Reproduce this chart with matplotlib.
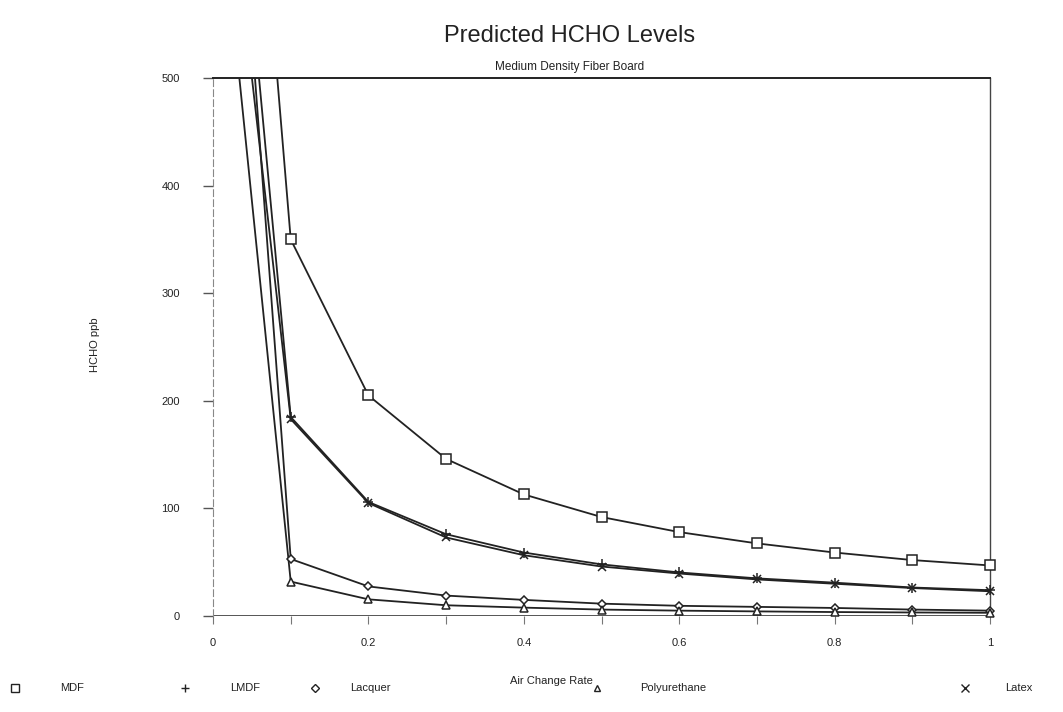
import numpy as np
import matplotlib
matplotlib.use('Agg')
import matplotlib.pyplot as plt
from matplotlib.lines import Line2D

plt.rcParams['font.family'] = ['Liberation Sans', 'DejaVu Sans']

# Air change rate (per hour) and predicted HCHO concentration (ppb)
air_change = [0.0, 0.1, 0.2, 0.3, 0.4, 0.5, 0.6, 0.7, 0.8, 0.9, 1.0]
mdf = [1217, 350, 205, 146, 113, 92, 78, 67.5, 59, 52, 47]
lmdf = [957, 185, 106, 76, 59, 48, 40.5, 35, 31, 26.5, 24]
lacquer = [1025, 53, 27.5, 19, 15, 11.5, 9.5, 8.5, 7.5, 6, 5]
polyurethane = [740, 32, 15.5, 10, 7.8, 6, 5, 4.3, 3.7, 3.3, 3]
latex = [818, 183, 105, 73, 56.5, 46, 39.5, 34, 30, 26, 23]

series_names = ['MDF', 'LMDF', 'Lacquer', 'Polyurethane', 'Latex']
series_values = [mdf, lmdf, lacquer, polyurethane, latex]
series_markers = ['s', '+', 'D', '^', 'x']
series_msize = [6.5, 7, 4.5, 5.5, 6]
legend_msize = [6, 6, 4, 5, 5.5]

ink = '#222222'
y_max = 500

fig = plt.figure(figsize=(10.63, 7.12), dpi=100)
ax = fig.add_axes([0.2004, 0.1348, 0.731, 0.7556])

for name, vals, mk, ms in zip(series_names, series_values, series_markers, series_msize):
    # lines are clipped at the top of the plot
    ax.plot(air_change, vals, color=ink, lw=1.3, label=name, zorder=3)
    # markers for the in-range points are drawn whole, even on the frame edge
    xs = np.array(air_change)
    vs = np.array(vals)
    keep = vs <= y_max
    ax.plot(xs[keep], vs[keep], linestyle='none', marker=mk, markersize=ms,
            markerfacecolor='white', markeredgecolor=ink, markeredgewidth=1.1,
            clip_on=False, zorder=4)

ax.set_xlim(0, 1)
ax.set_ylim(0, y_max)

# frame: dashed left axis, solid top/right, heavy zero line
ax.spines['left'].set_linestyle((0, (6, 3)))
ax.spines['left'].set_color('#888888')
ax.spines['left'].set_linewidth(0.8)
ax.spines['bottom'].set_visible(False)
ax.spines['top'].set_color(ink)
ax.spines['top'].set_linewidth(1.4)
ax.spines['right'].set_color('#444444')
ax.spines['right'].set_linewidth(1.0)
ax.axhline(0, color=ink, lw=1.8, zorder=2)

ax.set_xticks(np.arange(0, 1.01, 0.2))
ax.set_xticklabels(['0', '0.2', '0.4', '0.6', '0.8', '1'])
ax.set_xticks(np.arange(0.1, 1.0, 0.2), minor=True)
ax.set_yticks(np.arange(0, 501, 100))
ax.tick_params(axis='x', which='both', direction='out', length=6, width=0.8,
               color='#777777', pad=10, labelsize=8, labelcolor=ink)
ax.tick_params(axis='y', direction='out', length=7, width=1.0,
               color='#555555', pad=17, labelsize=8, labelcolor=ink)

ax.set_xlabel('Air Change Rate', fontsize=8, color=ink)
ax.xaxis.set_label_coords(0.435, -0.112)
ax.set_ylabel('HCHO ppb', fontsize=8, color=ink)
ax.yaxis.set_label_coords(-0.145, 0.504)

fig.text(570 / 1063, 1 - 36 / 712, 'Predicted HCHO Levels', ha='center', va='center',
         fontsize=17, color=ink)
fig.text(570 / 1063, 1 - 67 / 712, 'Medium Density Fiber Board', ha='center', va='center',
         fontsize=8.5, color=ink)

# legend row along the bottom
legend_marker_x = [15, 185, 315, 597, 965]
legend_text_x = [60, 230, 350, 640, 1005]
legend_y = 1 - 688 / 712
for name, mk, ms, mx, tx in zip(series_names, series_markers, legend_msize,
                                legend_marker_x, legend_text_x):
    fig.add_artist(Line2D([mx / 1063], [legend_y], marker=mk, markersize=ms,
                          markerfacecolor='white', markeredgecolor=ink,
                          markeredgewidth=1.0, linestyle='none'))
    fig.text(tx / 1063, legend_y, name, ha='left', va='center', fontsize=8, color=ink)

fig.savefig('out.png', dpi=100, facecolor='white')
